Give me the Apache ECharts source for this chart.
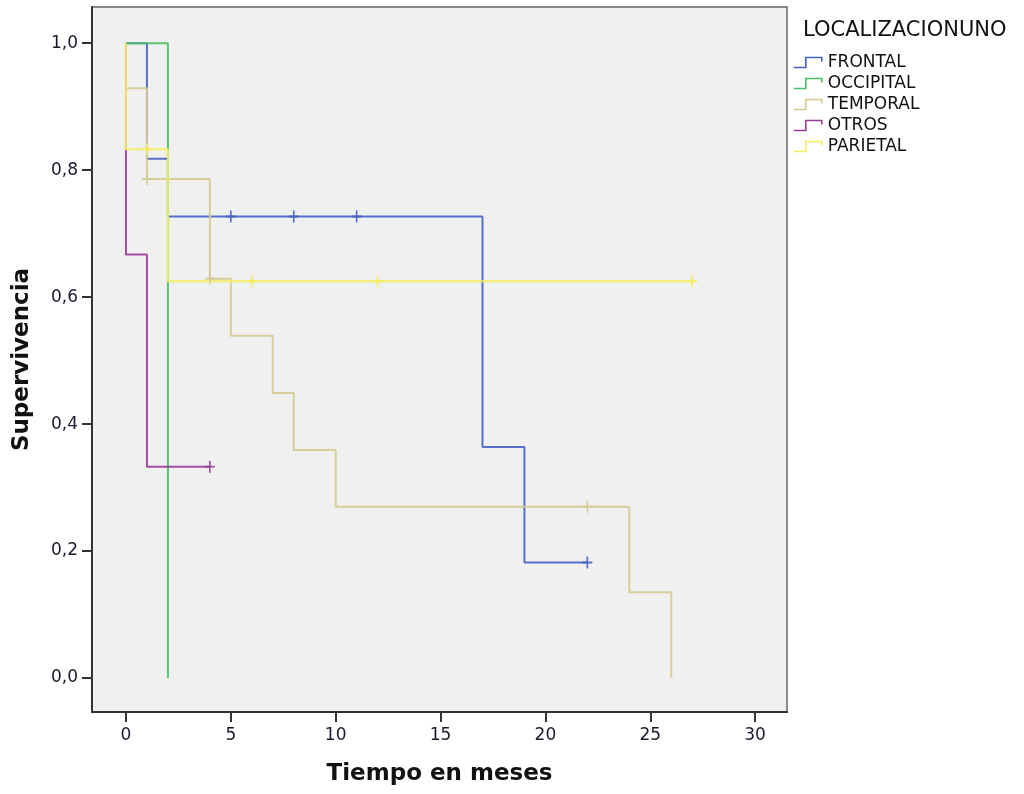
<!DOCTYPE html>
<html>
<head>
<meta charset="utf-8">
<script src="https://cdn.jsdelivr.net/npm/echarts@6/dist/echarts.min.js"></script>
<style>
  html, body { margin: 0; background: #fff; }
  #chart { width: 1024px; height: 794px; }
</style>
</head>
<body>
<div id="chart"></div>
<script>
// grupos y colores (orden de la leyenda)
var groups = ['FRONTAL', 'OCCIPITAL', 'TEMPORAL', 'OTROS', 'PARIETAL'];
var colors = ['#4560c2', '#48bf66', '#d4ca92', '#983c96', '#f4ee5c'];

// tiempos (meses) y supervivencia acumulada en cada evento
var frontalT = [0, 1, 2, 17, 19, 22];
var frontalS = [1, 0.818, 0.727, 0.364, 0.182, 0.182];
var occipitalT = [0, 2];
var occipitalS = [1, 0];
var temporalT = [0, 0, 1, 4, 5, 7, 8, 10, 24, 26];
var temporalS = [1, 0.929, 0.786, 0.629, 0.539, 0.449, 0.359, 0.27, 0.135, 0];
var otrosT = [0, 0, 1, 4];
var otrosS = [1, 0.667, 0.333, 0.333];
var parietalT = [0, 0, 2, 27];
var parietalS = [1, 0.833, 0.625, 0.625];

// casos censurados
var frontalCT = [5, 8, 11, 22];
var frontalCS = [0.727, 0.727, 0.727, 0.182];
var occipitalCT = [];
var occipitalCS = [];
var temporalCT = [1, 4, 22];
var temporalCS = [0.786, 0.629, 0.27];
var otrosCT = [4];
var otrosCS = [0.333];
var parietalCT = [1, 6, 12, 27];
var parietalCS = [0.833, 0.625, 0.625, 0.625];

var xTicks = [0, 5, 10, 15, 20, 25, 30];
var yTicks = [0, 0.2, 0.4, 0.6, 0.8, 1.0];

function pairs(t, s) {
  var out = [];
  for (var i = 0; i < t.length; i++) out.push([t[i], s[i]]);
  return out;
}

var curves = [
  pairs(frontalT, frontalS), pairs(occipitalT, occipitalS), pairs(temporalT, temporalS),
  pairs(otrosT, otrosS), pairs(parietalT, parietalS)
];
var censors = [
  pairs(frontalCT, frontalCS), pairs(occipitalCT, occipitalCS), pairs(temporalCT, temporalCS),
  pairs(otrosCT, otrosCS), pairs(parietalCT, parietalCS)
];

var series = [];
for (var i = 0; i < groups.length; i++) {
  series.push({
    name: groups[i],
    type: 'line',
    step: 'end',
    data: curves[i],
    showSymbol: false,
    silent: true,
    lineStyle: { color: colors[i], width: 2, opacity: 0.9 },
    itemStyle: { color: colors[i] },
    z: 2 + i
  });
}
for (var j = 0; j < groups.length; j++) {
  series.push({
    name: groups[j],
    type: 'scatter',
    data: censors[j],
    symbol: 'path://M5,0L5,12M0,6L10,6',
    symbolSize: [10, 12],
    silent: true,
    itemStyle: { color: 'rgba(0,0,0,0)', borderColor: colors[j], borderWidth: 1.8, opacity: 0.9 },
    z: 10 + j
  });
}

var font = 'DejaVu Sans';
var myChart = echarts.init(document.getElementById('chart'));
myChart.setOption({
  animation: false,
  backgroundColor: '#ffffff',
  title: {
    text: 'LOCALIZACIONUNO',
    left: 803,
    top: 20,
    padding: 0,
    textStyle: { fontFamily: font, fontSize: 21, fontWeight: 'normal', color: '#111' }
  },
  legend: {
    orient: 'vertical',
    left: 793,
    top: 54,
    padding: 0,
    itemWidth: 30,
    itemHeight: 10,
    itemGap: 4,
    selectedMode: false,
    textStyle: { fontFamily: font, fontSize: 17, color: '#111', lineHeight: 17 },
    data: groups.map(function (g, k) {
      return {
        name: g,
        icon: 'path://M0,10L12,10L12,0L28,0L28,4',
        itemStyle: { color: 'rgba(0,0,0,0)', borderColor: colors[k], borderWidth: 1.6 }
      };
    })
  },
  grid: {
    left: 92,
    top: 7,
    width: 695,
    height: 705,
    show: true,
    backgroundColor: '#f0f0f0',
    borderColor: '#666',
    borderWidth: 1.5
  },
  xAxis: {
    type: 'value',
    min: -1.62,
    max: 31.52,
    name: 'Tiempo en meses',
    nameLocation: 'middle',
    nameGap: 51,
    nameTextStyle: { fontFamily: font, fontSize: 23, fontWeight: 'bold', color: '#111' },
    axisLine: { show: true, onZero: false, lineStyle: { color: '#333', width: 2 } },
    axisTick: { show: true, length: 10, lineStyle: { color: '#333', width: 2 }, customValues: xTicks },
    axisLabel: { margin: 15, fontFamily: font, fontSize: 17, color: '#1a1a2e', customValues: xTicks },
    splitLine: { show: false }
  },
  yAxis: {
    type: 'value',
    min: -0.0535,
    max: 1.057,
    name: 'Supervivencia',
    nameLocation: 'middle',
    nameGap: 58,
    nameTextStyle: { fontFamily: font, fontSize: 23, fontWeight: 'bold', color: '#111' },
    axisLine: { show: true, onZero: false, lineStyle: { color: '#333', width: 2 } },
    axisTick: { show: true, length: 10, lineStyle: { color: '#333', width: 2 }, customValues: yTicks },
    axisLabel: {
      margin: 14,
      fontFamily: font,
      fontSize: 17,
      color: '#1a1a2e',
      customValues: yTicks,
      formatter: function (v) { return v.toFixed(1).replace('.', ','); }
    },
    splitLine: { show: false }
  },
  series: series
});
</script>
</body>
</html>
